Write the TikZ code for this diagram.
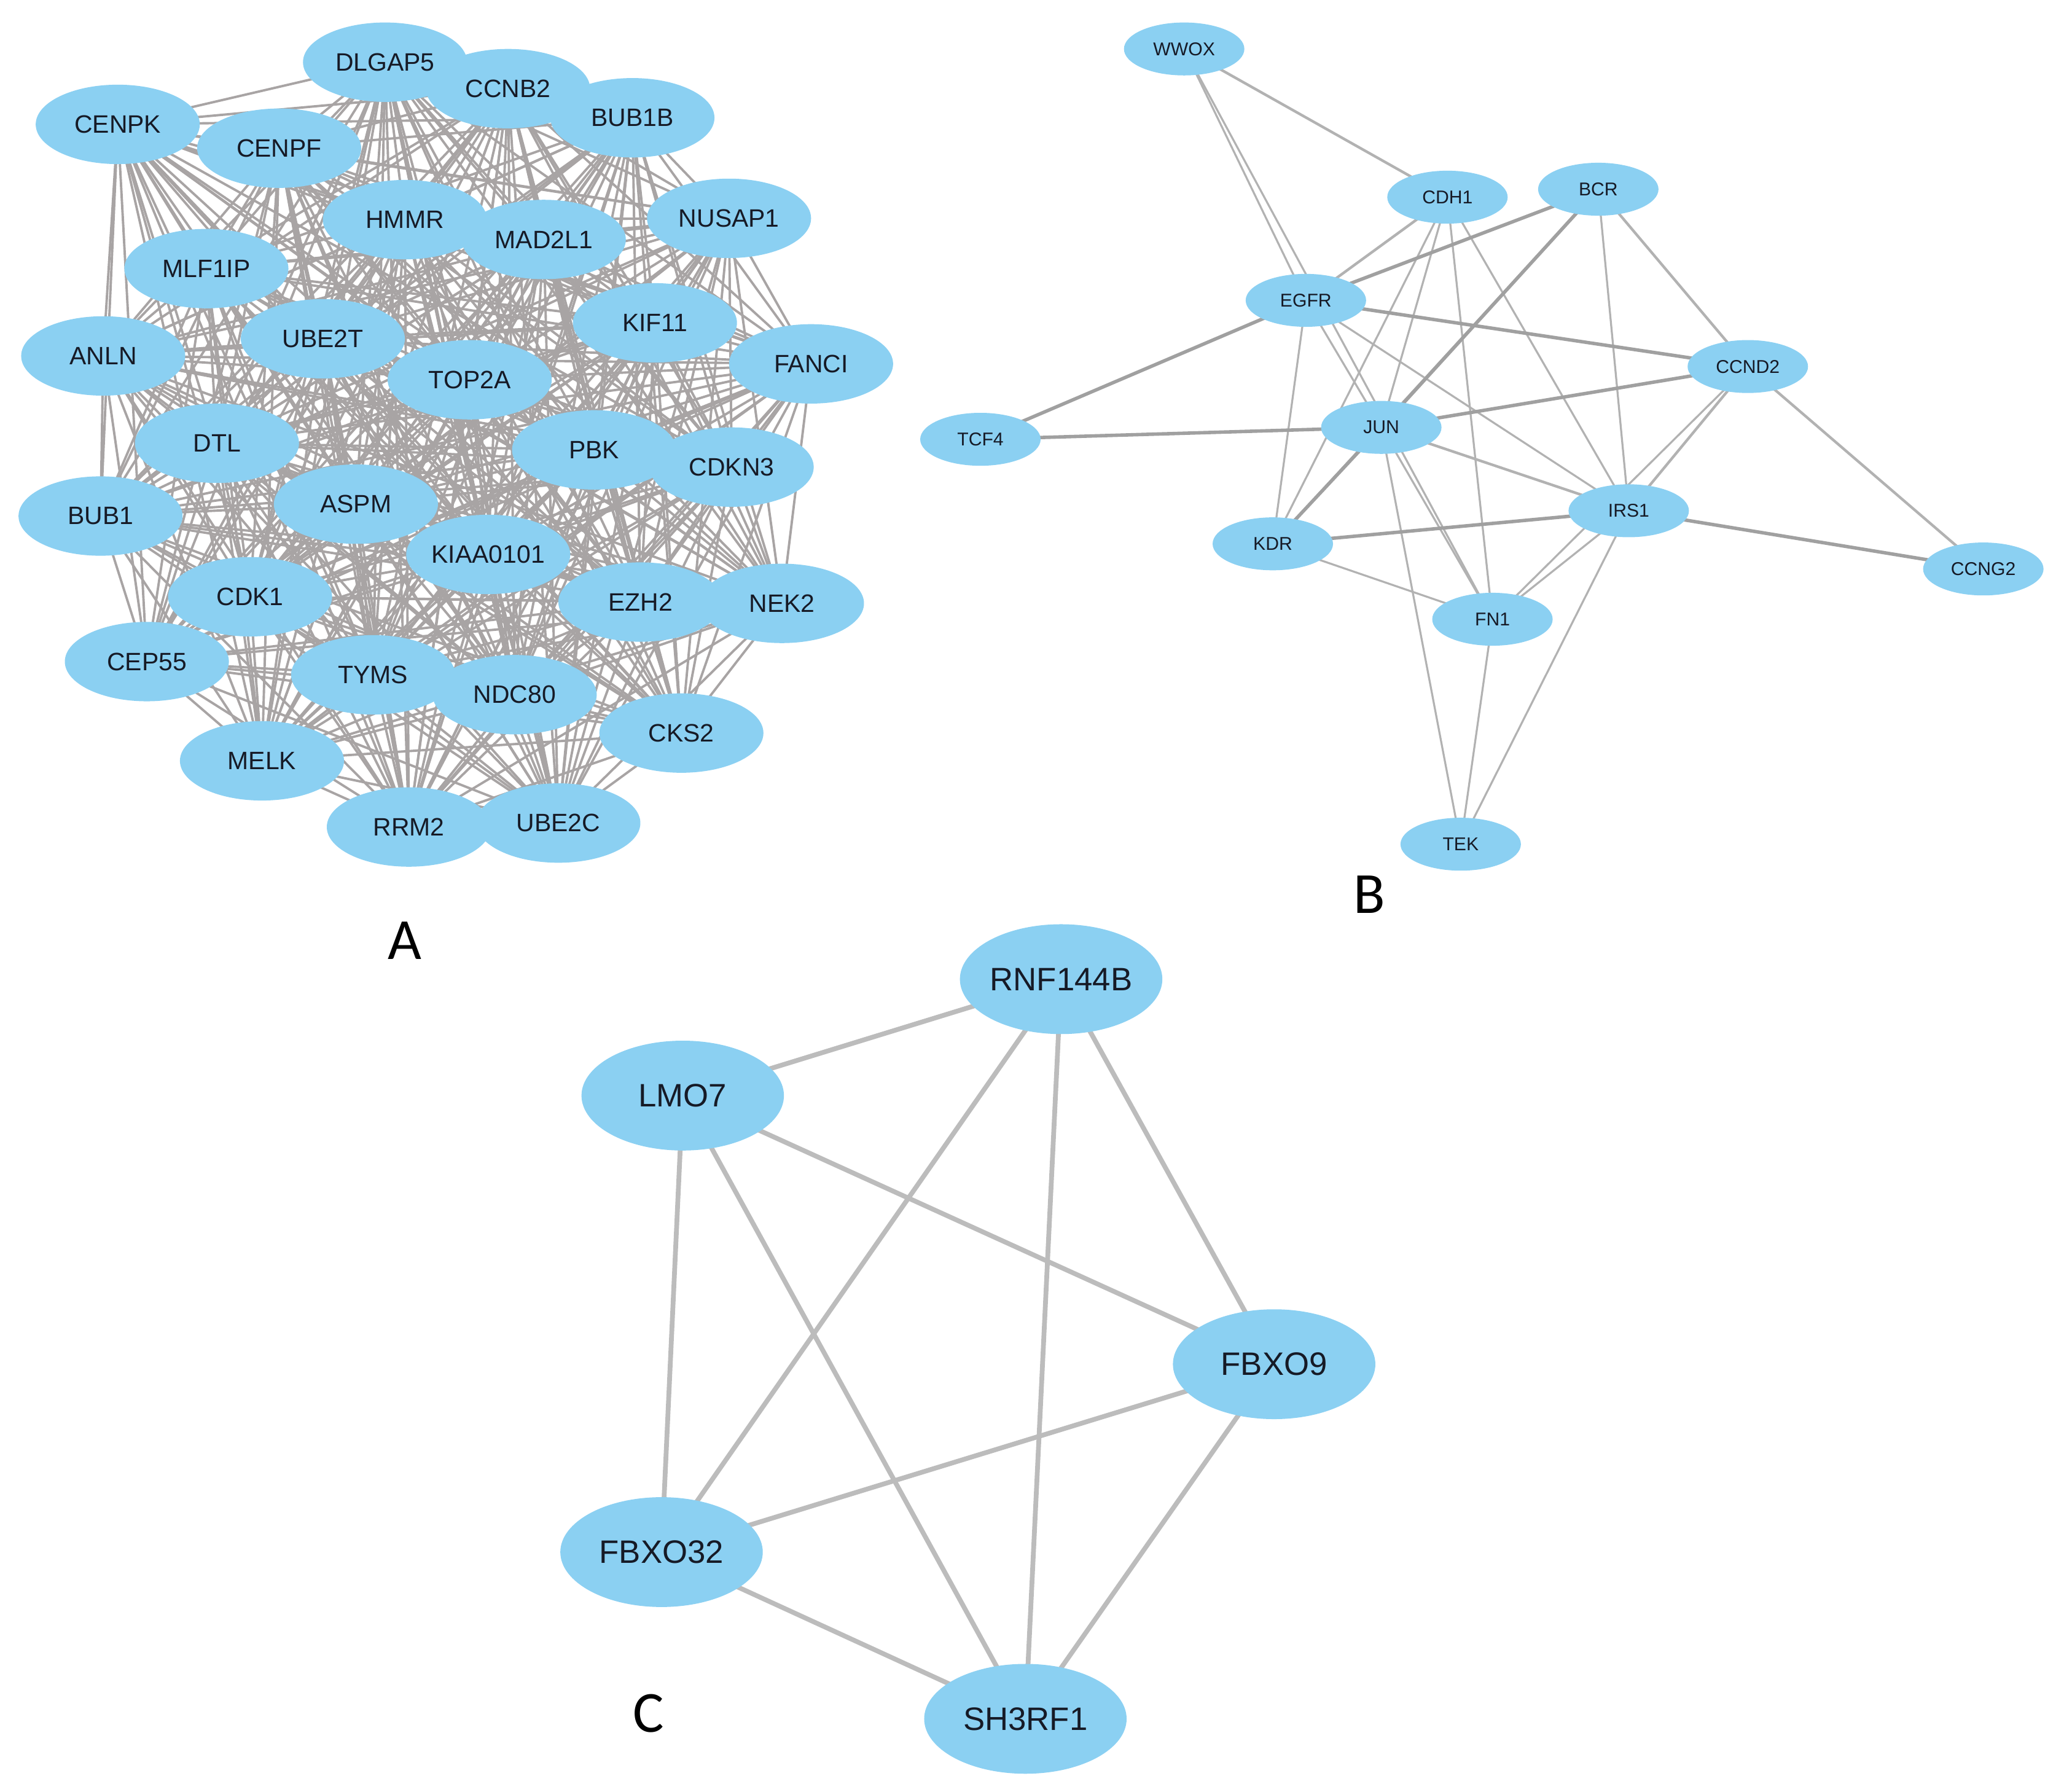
\documentclass[tikz,border=0pt]{standalone}
\usepackage{fontspec}
\setmainfont{Liberation Sans}
\newfontfamily\panelfont{Carlito}
\usetikzlibrary{shapes.geometric}
\pgfdeclarelayer{bg}
\pgfsetlayers{bg,main}
\definecolor{nodeblue}{RGB}{139,208,242}
\definecolor{txtdark}{RGB}{22,26,38}
\definecolor{edgeA}{RGB}{168,164,164}
\definecolor{edgeB}{RGB}{178,178,178}
\definecolor{edgeC}{RGB}{188,188,188}
\begin{document}
\begin{tikzpicture}[x=1pt,y=-1pt,
  nA/.style={ellipse, fill=nodeblue, minimum width=124pt, minimum height=60pt, inner sep=0pt, text=txtdark, font=\fontsize{19}{19}\selectfont},
  nB/.style={ellipse, fill=nodeblue, minimum width=91pt, minimum height=40pt, inner sep=0pt, text=txtdark, font=\fontsize{14}{14}\selectfont},
  nC/.style={ellipse, fill=nodeblue, minimum width=153pt, minimum height=83pt, inner sep=0pt, text=txtdark, font=\fontsize{24.5}{24.5}\selectfont},
  eA/.style={draw=edgeA, line width=1.8pt},
  eBthin/.style={draw=edgeB, line width=1.5pt},
  eBmid/.style={draw=edgeB, line width=2.0pt},
  eBthick/.style={draw=edgeB!90!black, line width=2.6pt},
  eC/.style={draw=edgeC, line width=3.6pt},
  panel/.style={font=\panelfont\fontsize{44}{44}\selectfont, text=black, inner sep=0pt}]
\useasboundingbox (0,0) rectangle (1560,1354);

% ---------------- Panel A ----------------
\foreach \n/\x/\y in {DLGAP5/291/47, CCNB2/384/67, BUB1B/478/89, CENPK/89/94, CENPF/211/112,
  HMMR/306/166, MAD2L1/411/181, NUSAP1/551/165, MLF1IP/156/203, ANLN/78/269, UBE2T/244/256,
  TOP2A/355/287, KIF11/495/244, FANCI/613/275, DTL/164/335, PBK/449/340, CDKN3/553/353,
  BUB1/76/390, ASPM/269/381, KIAA0101/369/419, CDK1/189/451, EZH2/484/455, NEK2/591/456,
  CEP55/111/500, TYMS/282/510, NDC80/389/525, CKS2/515/554, MELK/198/575, RRM2/309/625, UBE2C/422/622}
  \node[nA] (\n) at (\x,\y) {\n};
\def\Alist{DLGAP5,CCNB2,BUB1B,CENPK,CENPF,HMMR,MAD2L1,NUSAP1,MLF1IP,ANLN,UBE2T,TOP2A,KIF11,FANCI,DTL,PBK,CDKN3,BUB1,ASPM,KIAA0101,CDK1,EZH2,NEK2,CEP55,TYMS,NDC80,CKS2,MELK,RRM2,UBE2C}
\begin{pgfonlayer}{bg}
\foreach \a [count=\i] in \Alist {
  \foreach \b [count=\j] in \Alist {
    \ifnum\j>\i \draw[eA] (\a.center) -- (\b.center); \fi
  }
}
\end{pgfonlayer}
\node[panel] (labA) at (306,711) {A};

% ---------------- Panel B ----------------
\foreach \n/\x/\y in {WWOX/895/37, CDH1/1094/149, BCR/1208/143, EGFR/987/227, CCND2/1321/277,
  TCF4/741/332, JUN/1044/323, IRS1/1231/386, KDR/962/411, CCNG2/1499/430, FN1/1128/468, TEK/1104/638}
  \node[nB] (\n) at (\x,\y) {\n};
\begin{pgfonlayer}{bg}
\foreach \p/\q in {CDH1/JUN, CDH1/KDR, CDH1/FN1, CDH1/IRS1, BCR/IRS1, EGFR/KDR, EGFR/IRS1,
  JUN/TEK, FN1/TEK, IRS1/TEK, IRS1/FN1, CCND2/FN1, KDR/FN1, JUN/FN1, WWOX/FN1, WWOX/EGFR, EGFR/JUN, BCR/KDR}
  \draw[eBthin] (\p.center) -- (\q.center);
\foreach \p/\q in {WWOX/CDH1, CDH1/EGFR, BCR/CCND2, JUN/IRS1, CCND2/CCNG2, CCND2/IRS1}
  \draw[eBmid] (\p.center) -- (\q.center);
\foreach \p/\q in {BCR/EGFR, BCR/JUN, JUN/KDR, TCF4/EGFR, TCF4/JUN, EGFR/CCND2, JUN/CCND2, KDR/IRS1, IRS1/CCNG2}
  \draw[eBthick] (\p.center) -- (\q.center);
\end{pgfonlayer}
\node[panel] (labB) at (1035,676) {B};

% ---------------- Panel C ----------------
\node[nC] (RNF144B) at (802,740) {RNF144B};
\node[nC] (LMO7) at (516,828) {LMO7};
\node[nC] (FBXO9) at (963,1031) {FBXO9};
\node[nC] (FBXO32) at (500,1173) {FBXO32};
\node[nC] (SH3RF1) at (775,1299) {SH3RF1};
\begin{pgfonlayer}{bg}
\foreach \p/\q in {RNF144B/LMO7, RNF144B/FBXO9, RNF144B/FBXO32, RNF144B/SH3RF1, LMO7/FBXO9,
  LMO7/FBXO32, LMO7/SH3RF1, FBXO9/FBXO32, FBXO9/SH3RF1, FBXO32/SH3RF1}
  \draw[eC] (\p.center) -- (\q.center);
\end{pgfonlayer}
\node[panel] (labC) at (490,1295) {C};
\end{tikzpicture}
\end{document}
